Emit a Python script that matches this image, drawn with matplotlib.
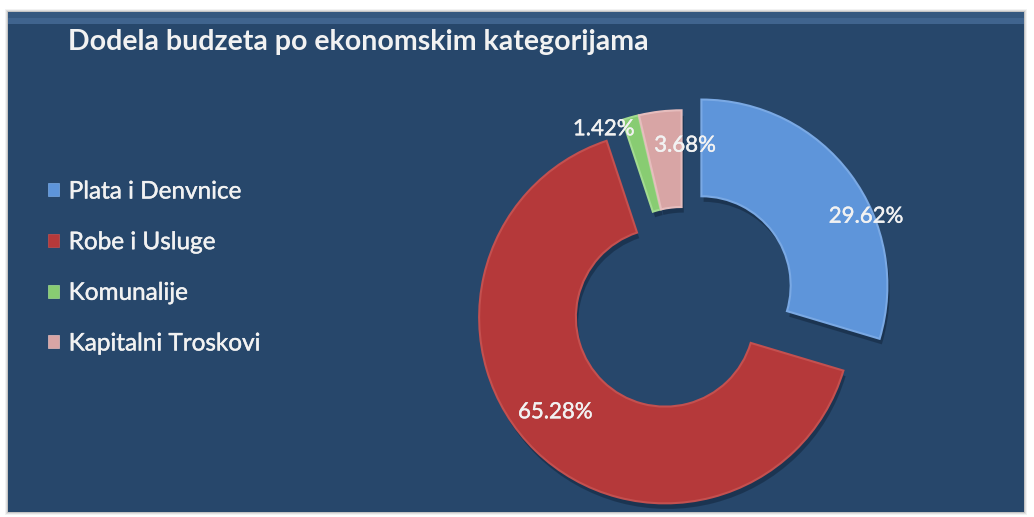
#!/usr/bin/env python3

import matplotlib
matplotlib.use('Agg')
import matplotlib.pyplot as plt
import matplotlib.patheffects as pe
from matplotlib.patches import Rectangle, Wedge
import numpy as np

title = 'Dodela budzeta po ekonomskim kategorijama'
categories = ['Plata i Denvnice', 'Robe i Usluge', 'Komunalije', 'Kapitalni Troskovi']
shares = [29.62, 65.28, 1.42, 3.68]
pct_labels = ['29.62%', '65.28%', '1.42%', '3.68%']

colors = ['#5E95DA', '#B5393A', '#88CC72', '#D8A5A5']
edges = ['#7AA9E4', '#C4504F', '#A3DB90', '#E6BDBD']
explode = [0.13, 0.13, 0.02, 0.02]
panel_color = '#27476B'
txt_color = '#F2F2F2'

plt.rcParams['font.family'] = ['Lato', 'DejaVu Sans']

W, H = 1034, 517
fig = plt.figure(figsize=(W / 100, H / 100), dpi=100)
fig.patch.set_facecolor('white')

# panel with soft shadow
for k, a in enumerate([0.05, 0.08, 0.12]):
    off = 3 - k
    fig.patches.append(Rectangle(((8 - off) / W, (5 - off) / H), (1016 + 2 * off) / W, (500 + 2 * off) / H,
                                 transform=fig.transFigure, facecolor='black', alpha=a, linewidth=0, zorder=-3))
fig.patches.append(Rectangle((8 / W, 5 / H), 1016 / W, 500 / H, transform=fig.transFigure,
                             facecolor=panel_color, linewidth=0, zorder=-2))
# bevel highlight at the top edge
fig.patches.append(Rectangle((8 / W, (517 - 24) / H), 1016 / W, 6 / H, transform=fig.transFigure,
                             facecolor='#40648E', linewidth=0, zorder=-1))
fig.patches.append(Rectangle((8 / W, (517 - 18) / H), 1016 / W, 6 / H, transform=fig.transFigure,
                             facecolor='#35587F', linewidth=0, zorder=-1))

# donut axes: 1 data unit = R pixels, centre at (cx, cy) from top-left
R, cx, cy = 186.0, 682.0, 300.0
ax_l, ax_r = 430.0, 934.0
ax = fig.add_axes([ax_l / W, 0, (ax_r - ax_l) / W, 1])
ax.set_zorder(2)
ax.patch.set_alpha(0)

wedges, _ = ax.pie(shares, colors=colors, startangle=90, counterclock=False,
                   explode=explode, radius=1.0,
                   wedgeprops=dict(width=0.52, linewidth=1.5))
for w, ec in zip(wedges, edges):
    w.set_edgecolor(ec)
    w.set_zorder(3)
    sh = Wedge((w.center[0] + 0.012, w.center[1] - 0.03), w.r, w.theta1, w.theta2, width=w.width,
               facecolor='#0E1F33', alpha=0.45, linewidth=0, zorder=2)
    ax.add_patch(sh)

ax.set_xlim((ax_l - cx) / R, (ax_r - cx) / R)
ax.set_ylim(-(H - cy) / R, cy / R)
ax.set_aspect('auto')
ax.axis('off')

thick = [pe.withStroke(linewidth=0.3, foreground=txt_color)]

# percentage labels: (radius factor, angle shift in degrees) relative to wedge middle
label_pos = [(0.96, -14), (0.78, -5), (0.99, 9), (0.81, -8)]
for w, t, (rf, da) in zip(wedges, pct_labels, label_pos):
    mid = np.deg2rad((w.theta1 + w.theta2) / 2 + da)
    x = w.center[0] + rf * np.cos(mid)
    y = w.center[1] + rf * np.sin(mid)
    ax.text(x, y, t, color=txt_color, fontsize=16, ha='center', va='center', zorder=5,
            path_effects=thick)

fig.text(68 / W, 1 - 42 / H, title, color=txt_color, fontsize=20.5, fontweight='bold',
         ha='left', va='center', zorder=5)

leg = fig.legend(wedges, categories, loc='center left', bbox_to_anchor=(48 / W, 1 - 268 / H),
                 frameon=False, fontsize=17.5, labelcolor=txt_color, handlelength=0.45, handleheight=0.45,
                 handletextpad=0.4, labelspacing=1.22, borderpad=0, borderaxespad=0)
leg.set_zorder(5)
for h in leg.legend_handles:
    h.set_linewidth(0.5)
for t in leg.get_texts():
    t.set_path_effects(thick)

fig.savefig('out.png', dpi=100, facecolor=fig.get_facecolor())
